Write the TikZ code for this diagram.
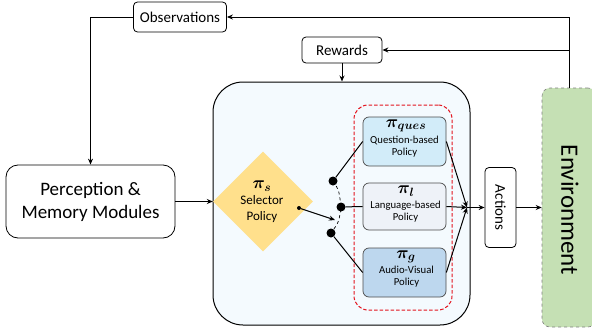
\documentclass[tikz,border=0pt]{standalone}
\usepackage{bm}
\usepackage{fontspec}
\setmainfont{Carlito}
\usetikzlibrary{shapes.geometric,arrows.meta,calc}
\definecolor{bigfill}{HTML}{F4FAFE}
\definecolor{qfill}{HTML}{D2ECF9}
\definecolor{lfill}{HTML}{EEF2F8}
\definecolor{gfill}{HTML}{BDD7EE}
\definecolor{goldfill}{HTML}{FFE08C}
\definecolor{envfill}{HTML}{C5E0B4}
\definecolor{reddash}{HTML}{E3141E}
\begin{document}
\begin{tikzpicture}[x=1pt,y=-1pt,
  >={Stealth[length=6pt,width=5pt]},
  lbl/.style={draw, rounded corners=4pt, line width=0.8pt, fill=white, inner sep=0pt},
  pol/.style={draw=black!70, rounded corners=6pt, line width=0.7pt, minimum width=83pt, minimum height=48pt, inner sep=0pt},
  conn/.style={line width=1pt},
  pitxt/.style={font=\fontsize{18}{18}\selectfont, inner sep=0pt},
  poltxt/.style={font=\fontsize{10.7}{12}\selectfont, align=center, inner sep=0pt},
  dot/.style={circle, fill=black, inner sep=0pt, minimum size=9pt}]
\clip (0,0) rectangle (592,332);
% environment
\node[draw=black!50, dashed, fill=envfill, rounded corners=8pt, minimum width=54pt, minimum height=239pt, line width=0.6pt] (env) at (569,207.5) {};
\node[rotate=-90, font=\fontsize{25}{25}\selectfont, inner sep=0pt] (envt) at (570,210) {Environment};
% labels
\node[lbl, minimum width=93pt, minimum height=30pt, font=\fontsize{15}{18}\selectfont] (obs) at (180,17) {Observations};
\node[lbl, minimum width=80pt, minimum height=26pt, font=\fontsize{15}{18}\selectfont] (rew) at (342,50) {Rewards};
\node[lbl, rounded corners=12pt, minimum width=169pt, minimum height=73pt, align=center, font=\fontsize{19}{23}\selectfont] (perc) at (90.5,201.5) {Perception \&\\Memory Modules};
% agent box
\node[draw, line width=1pt, rounded corners=30pt, fill=bigfill, minimum width=257pt, minimum height=243pt, inner sep=0pt] (agent) at (341.5,203.5) {};
\node[draw=reddash, dash pattern=on 3.5pt off 2pt, line width=1pt, rounded corners=14pt, minimum width=98pt, minimum height=205pt, inner sep=0pt] (grp) at (403,207.5) {};
% selector
\node[diamond, fill=goldfill, minimum width=100pt, minimum height=100pt, inner sep=0pt] (sel) at (263,201.5) {};
\node[pitxt] (spi) at (262,186) {$\bm{\pi_s}$};
\node[font=\fontsize{13}{16}\selectfont, align=center, inner sep=0pt] (stxt) at (262,209) {Selector\\Policy};
% policies
\node[pol, fill=qfill, minimum height=49pt] (q) at (404.5,141.5) {};
\node[pol, fill=lfill, minimum height=47pt] (l) at (404.5,206.5) {};
\node[pol, fill=gfill, minimum height=49pt] (g) at (404.5,272.5) {};
\node[pitxt] (qpi) at (406,126) {$\bm{\pi_{ques}}$};
\node[poltxt] (qt) at (404.5,146.5) {Question-based\\Policy};
\node[pitxt] (lpi) at (406,191) {$\bm{\pi_l}$};
\node[poltxt] (lt) at (405.5,211.5) {Language-based\\Policy};
\node[pitxt] (gpi) at (406,257) {$\bm{\pi_g}$};
\node[poltxt] (gt) at (406.5,277) {Audio-Visual\\Policy};
% switch
\node[circle, fill=black, inner sep=0pt, minimum size=4pt] (sd) at (299,208) {};
\coordinate (se) at (335,220);
\node[dot] (d1) at (333,181) {};
\node[dot] (d2) at (341,207) {};
\node[dot] (d3) at (331,233) {};
\draw[dashed, line width=0.7pt] (d1.center) .. controls (339,190) .. (d2.center) .. controls (339,222) .. (d3.center);
\draw[conn,->] (sd) -- (se);
\draw[conn] (d1) -- (q.west);
\draw[conn] (d2) -- (l.west);
\draw[conn] (d3) -- (g.west);
% outputs
\coordinate (cv) at (467,207.5);
\node[lbl, minimum width=80pt, minimum height=31pt, rotate=-90, font=\fontsize{15}{18}\selectfont] (act) at (500.5,207.5) {Actions};
\draw[conn,->] (q.east) -- (cv);
\draw[conn,->] (l.east) -- (cv);
\draw[conn,->] (g.east) -- (cv);
\draw[conn,->] (cv) -- (act);
\draw[conn,->] (act) -- (env);
% feedback
\draw[conn,->] (env.north) |- (obs.east);
\coordinate (rj) at (env.north |- rew.east);
\draw[conn,->] (rj) -- (rew.east);
\draw[conn,->] (rew.south) -- (rew.south |- agent.north);
\draw[conn,->] (obs.west) -| (perc.north);
\draw[conn,->] (perc.east) -- (sel.west);
\end{tikzpicture}
\end{document}
